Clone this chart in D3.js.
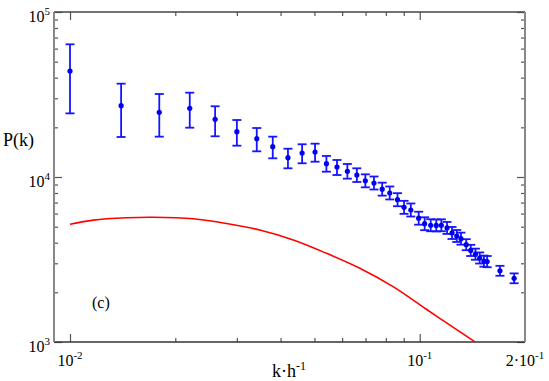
<!DOCTYPE html>
<html>
<head>
<meta charset="utf-8">
<style>
  body { margin: 0; background: #fff; }
</style>
</head>
<body>
<div class="chart"></div>
<script src="https://d3js.org/d3.v7.min.js"></script>
<script>
  // measured power spectrum P(k) with error bars
  const kVals = [0.0100, 0.0140, 0.0180, 0.0220, 0.0260, 0.0300, 0.0342, 0.0380, 0.0420, 0.0461,
                 0.0502, 0.0541, 0.0580, 0.0621, 0.0661, 0.0699, 0.0740, 0.0781, 0.0821, 0.0864,
                 0.0902, 0.0943, 0.0993, 0.1033, 0.1075, 0.1115, 0.1153, 0.1197, 0.1237, 0.1276,
                 0.1312, 0.1358, 0.1399, 0.1443, 0.1484, 0.1526, 0.1559, 0.1696, 0.1862];
  const pVals = [43900, 27050, 24660, 26090, 22370, 18820, 17070, 15260, 13090, 13980,
                 14170, 12040, 11500, 10830, 10280, 9480, 9200, 8440, 8000, 7285,
                 6550, 6310, 5630, 5210, 5100, 5090, 5100, 4910, 4580, 4390,
                 4230, 3890, 3590, 3405, 3230, 3090, 3070, 2700, 2430];
  const pHi = [63700, 36780, 31840, 32430, 26830, 22150, 19810, 17560, 14840, 15790,
               15920, 13410, 12680, 11990, 11290, 10380, 10070, 9240, 8760, 7980,
               7170, 6910, 6160, 5700, 5545, 5530, 5540, 5340, 4980, 4770,
               4600, 4200, 3880, 3680, 3490, 3340, 3320, 2895, 2605];
  const pLo = [24300, 17480, 17560, 19900, 17650, 15480, 14310, 12980, 11290, 12110,
               12380, 10770, 10280, 9770, 9330, 8660, 8400, 7710, 7310, 6650,
               5980, 5760, 5140, 4760, 4690, 4680, 4690, 4520, 4210, 4040,
               3890, 3600, 3320, 3150, 2990, 2860, 2840, 2520, 2270];

  // model curve (red)
  const curveK = [0.0100, 0.01166, 0.01452, 0.0173, 0.0225, 0.0280, 0.0349, 0.0435,
                  0.0541, 0.0674, 0.0839, 0.1045, 0.1301, 0.1436, 0.1585];
  const curveP = [5168, 5480, 5660, 5700, 5580, 5230, 4773, 4151,
                  3449, 2797, 2164, 1579, 1155, 1005, 870];

  // ticks
  const xMajor = [0.01, 0.1];
  const xMinor = [0.02, 0.03, 0.04, 0.05, 0.06, 0.07, 0.08, 0.09];
  const xLabels = [[0.01, "10", "-2"], [0.1, "10", "-1"], [0.2, "2·10", "-1"]];
  const yMajor = [1e3, 1e4, 1e5];
  const yMinor = [2e3, 3e3, 4e3, 5e3, 6e3, 7e3, 8e3, 9e3,
                  2e4, 3e4, 4e4, 5e4, 6e4, 7e4, 8e4, 9e4];
  const yLabels = [[1e3, "3"], [1e4, "4"], [1e5, "5"]];

  const width = 549, height = 381;
  const mLeft = 54, mRight = 525, mTop = 12, mBottom = 342;
  const serif = '"Liberation Serif", "DejaVu Serif", serif';

  const svg = d3.select('.chart')
                .append('svg')
                .attr('width', width)
                .attr('height', height)
                .attr('font-family', serif);

  const xScale = d3.scaleLog().domain([0.009, 0.2]).range([mLeft, mRight]);
  const yScale = d3.scaleLog().domain([1e3, 1e5]).range([mBottom, mTop]);

  svg.append('clipPath').attr('id', 'plotClip')
     .append('rect')
     .attr('x', mLeft).attr('y', mTop)
     .attr('width', mRight - mLeft).attr('height', mBottom - mTop);

  // axes: ticks pointing inward on all four sides
  function addAxis(axis, tx, ty, vals, size) {
    const g = svg.append('g')
      .attr('transform', `translate(${tx},${ty})`)
      .call(axis.tickValues(vals).tickSize(-size).tickFormat(''));
    g.select('.domain').remove();
    g.selectAll('.tick line').attr('stroke', '#555').attr('stroke-width', 1.2);
  }
  addAxis(d3.axisBottom(xScale), 0, mBottom, xMajor, 8);
  addAxis(d3.axisBottom(xScale), 0, mBottom, xMinor, 4);
  addAxis(d3.axisTop(xScale), 0, mTop, xMajor, 8);
  addAxis(d3.axisTop(xScale), 0, mTop, xMinor, 4);
  addAxis(d3.axisLeft(yScale), mLeft, 0, yMajor, 8);
  addAxis(d3.axisLeft(yScale), mLeft, 0, yMinor, 4);
  addAxis(d3.axisRight(yScale), mRight, 0, yMajor, 8);
  addAxis(d3.axisRight(yScale), mRight, 0, yMinor, 4);

  // frame
  svg.append('line').attr('x1', mLeft).attr('x2', mRight).attr('y1', mTop).attr('y2', mTop)
     .attr('stroke', '#444').attr('stroke-width', 1.5);
  svg.append('line').attr('x1', mLeft).attr('x2', mRight).attr('y1', mBottom).attr('y2', mBottom)
     .attr('stroke', '#333').attr('stroke-width', 1.5);
  svg.append('line').attr('x1', mLeft).attr('x2', mLeft).attr('y1', mTop).attr('y2', mBottom)
     .attr('stroke', '#888').attr('stroke-width', 2);
  svg.append('line').attr('x1', mRight).attr('x2', mRight).attr('y1', mTop).attr('y2', mBottom)
     .attr('stroke', '#888').attr('stroke-width', 2);

  // tick labels
  xLabels.forEach(d => {
    const t = svg.append('text')
      .attr('x', xScale(d[0]))
      .attr('y', 366)
      .attr('text-anchor', 'middle')
      .attr('font-family', serif)
      .attr('font-size', 16);
    t.append('tspan').text(d[1]);
    t.append('tspan').attr('dy', -7).attr('font-size', 11).text(d[2]);
  });
  yLabels.forEach(d => {
    const t = svg.append('text')
      .attr('x', 50)
      .attr('y', yScale(d[0]) + 10)
      .attr('text-anchor', 'end')
      .attr('font-family', serif)
      .attr('font-size', 16);
    t.append('tspan').text('10');
    t.append('tspan').attr('dy', -7).attr('font-size', 11).text(d[1]);
  });

  // axis titles
  svg.append('text').attr('x', 3).attr('y', 146)
     .attr('font-family', serif)
     .attr('font-size', 18).text('P(k)');
  const xt = svg.append('text').attr('x', 289).attr('y', 377)
     .attr('text-anchor', 'middle')
     .attr('font-family', serif)
     .attr('font-size', 18);
  xt.append('tspan').text('k·h');
  xt.append('tspan').attr('dy', -7).attr('font-size', 12).text('-1');

  svg.append('text').attr('x', 92).attr('y', 308)
     .attr('font-family', serif)
     .attr('font-size', 16).text('(c)');

  // red model curve
  const curveData = curveK.map((k, i) => [k, curveP[i]]);
  const lineGen = d3.line()
                    .x(d => xScale(d[0]))
                    .y(d => yScale(d[1]))
                    .curve(d3.curveCatmullRom.alpha(0.5));
  svg.append('path')
     .attr('d', lineGen(curveData))
     .attr('clip-path', 'url(#plotClip)')
     .attr('fill', 'none')
     .attr('stroke', '#ff0000')
     .attr('stroke-width', 1.6);

  // data points with error bars
  const pts = kVals.map((k, i) => ({ k: k, p: pVals[i], hi: pHi[i], lo: pLo[i] }));
  const blue = '#1515ff';
  const capW = 4.5;
  const eb = svg.append('g').attr('stroke', blue).attr('stroke-width', 1.8);
  eb.selectAll('.vbar').data(pts).join('line')
    .attr('x1', d => xScale(d.k)).attr('x2', d => xScale(d.k))
    .attr('y1', d => yScale(d.hi)).attr('y2', d => yScale(d.lo));
  eb.selectAll('.capHi').data(pts).join('line')
    .attr('x1', d => xScale(d.k) - capW).attr('x2', d => xScale(d.k) + capW)
    .attr('y1', d => yScale(d.hi)).attr('y2', d => yScale(d.hi));
  eb.selectAll('.capLo').data(pts).join('line')
    .attr('x1', d => xScale(d.k) - capW).attr('x2', d => xScale(d.k) + capW)
    .attr('y1', d => yScale(d.lo)).attr('y2', d => yScale(d.lo));
  svg.append('g').selectAll('circle').data(pts).join('circle')
    .attr('cx', d => xScale(d.k))
    .attr('cy', d => yScale(d.p))
    .attr('r', 2.6)
    .attr('fill', '#0000ee');
</script>
</body>
</html>
